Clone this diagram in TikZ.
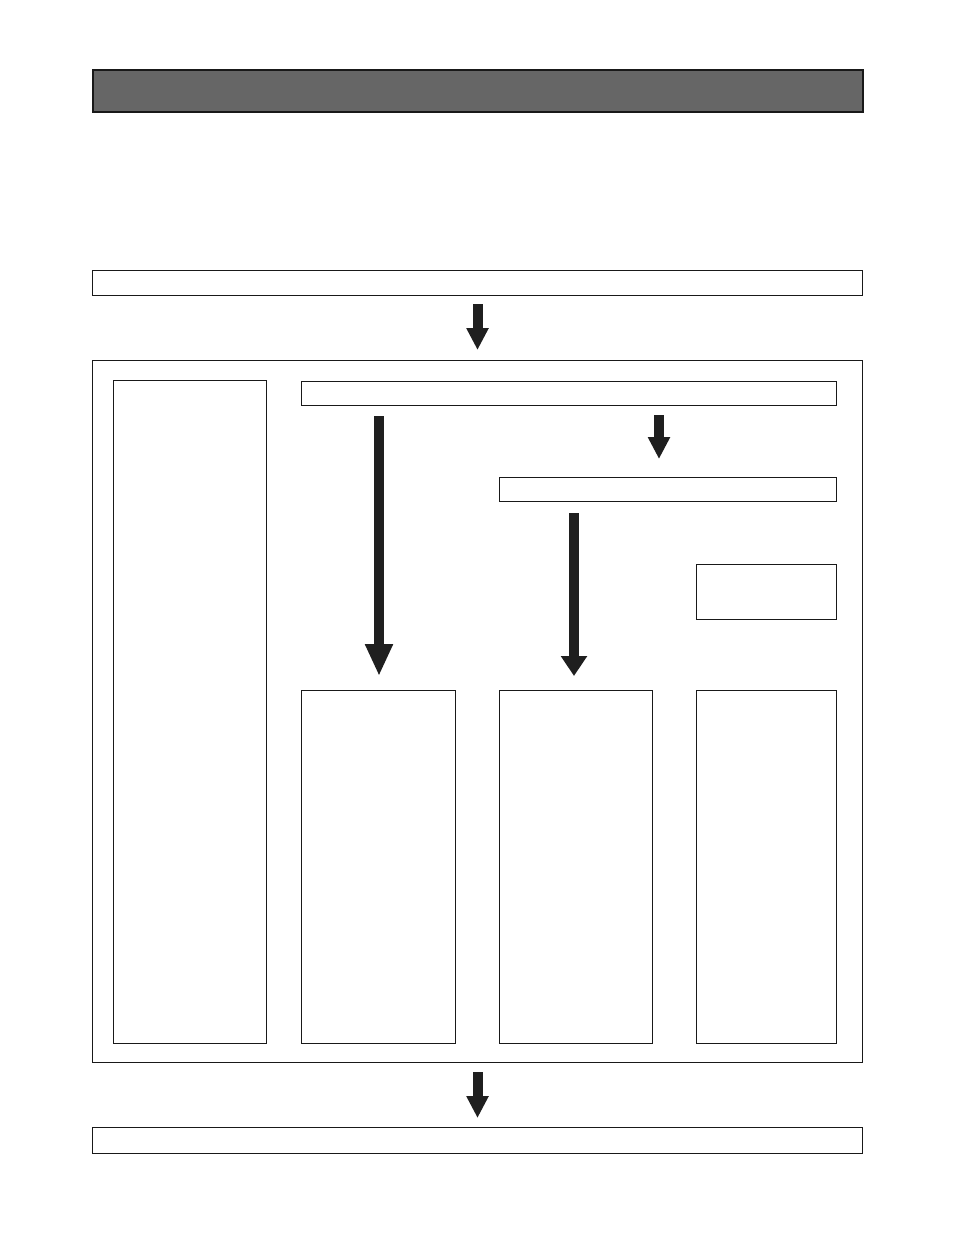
\documentclass[tikz,border=0pt]{standalone}
\usetikzlibrary{arrows.meta, positioning, calc}

\begin{document}
\begin{tikzpicture}[
			x=0.25mm, y=-0.25mm,
			box/.style={rectangle, draw=black!90, line width=0.25mm, inner sep=0pt, anchor=north west},
			bar/.style={box, fill=black!60, line width=0.4mm},
			bigarrow/.style={draw=black!88, line width=2.5mm, -{Triangle[width=6.5mm, length=8mm]}},
			smallarrow/.style={bigarrow, -{Triangle[width=5.25mm, length=5.5mm]}},
			shortarrow/.style={bigarrow, -{Triangle[width=6.3mm, length=5mm]}}
			]
			\useasboundingbox (0,0) rectangle (954,1235);
			
			% Header and frames
			\node[bar, minimum width=192.5mm, minimum height=10.5mm] (header) at (92,69) {};
			\node[box, minimum width=192.5mm, minimum height=6.25mm] (start) at (92,270) {};
			\node[box, minimum width=192.5mm, minimum height=175.5mm] (frame) at (92,360) {};
			\node[box, minimum width=192.5mm, minimum height=6.5mm] (finish) at (92,1127) {};
			
			% Inside the frame
			\node[box, minimum width=38.25mm, minimum height=165.75mm] (side) at (113,380) {};
			\node[box, minimum width=133.75mm, minimum height=6mm] (upper) at (301,381) {};
			\node[box, minimum width=84.25mm, minimum height=6mm] (lower) at (499,477) {};
			\node[box, minimum width=35mm, minimum height=13.75mm] (note) at (696,564) {};
			\node[box, minimum width=38.5mm, minimum height=88.25mm] (colA) at (301,690) {};
			\node[box, minimum width=38.25mm, minimum height=88.25mm] (colB) at (499,690) {};
			\node[box, minimum width=35mm, minimum height=88.25mm] (colC) at (696,690) {};
			
			% Arrows
			\coordinate (ax) at (379,0);
			\coordinate (bx) at (574,0);
			\coordinate (cx) at (659,0);
			\draw[smallarrow, shorten <=2mm, shorten >=2.5mm] (start.south) -- (frame.north);
			\draw[bigarrow, shorten <=2.5mm, shorten >=3.5mm] (ax |- upper.south) -- (ax |- colA.north);
			\draw[smallarrow, shorten <=2.25mm, shorten >=4.5mm] (cx |- upper.south) -- (cx |- lower.north);
			\draw[shortarrow, shorten <=2.75mm, shorten >=3.5mm] (bx |- lower.south) -- (bx |- colB.north);
			\draw[smallarrow, shorten <=2.25mm, shorten >=2.25mm] (frame.south) -- (finish.north);
		\end{tikzpicture}
\end{document}
